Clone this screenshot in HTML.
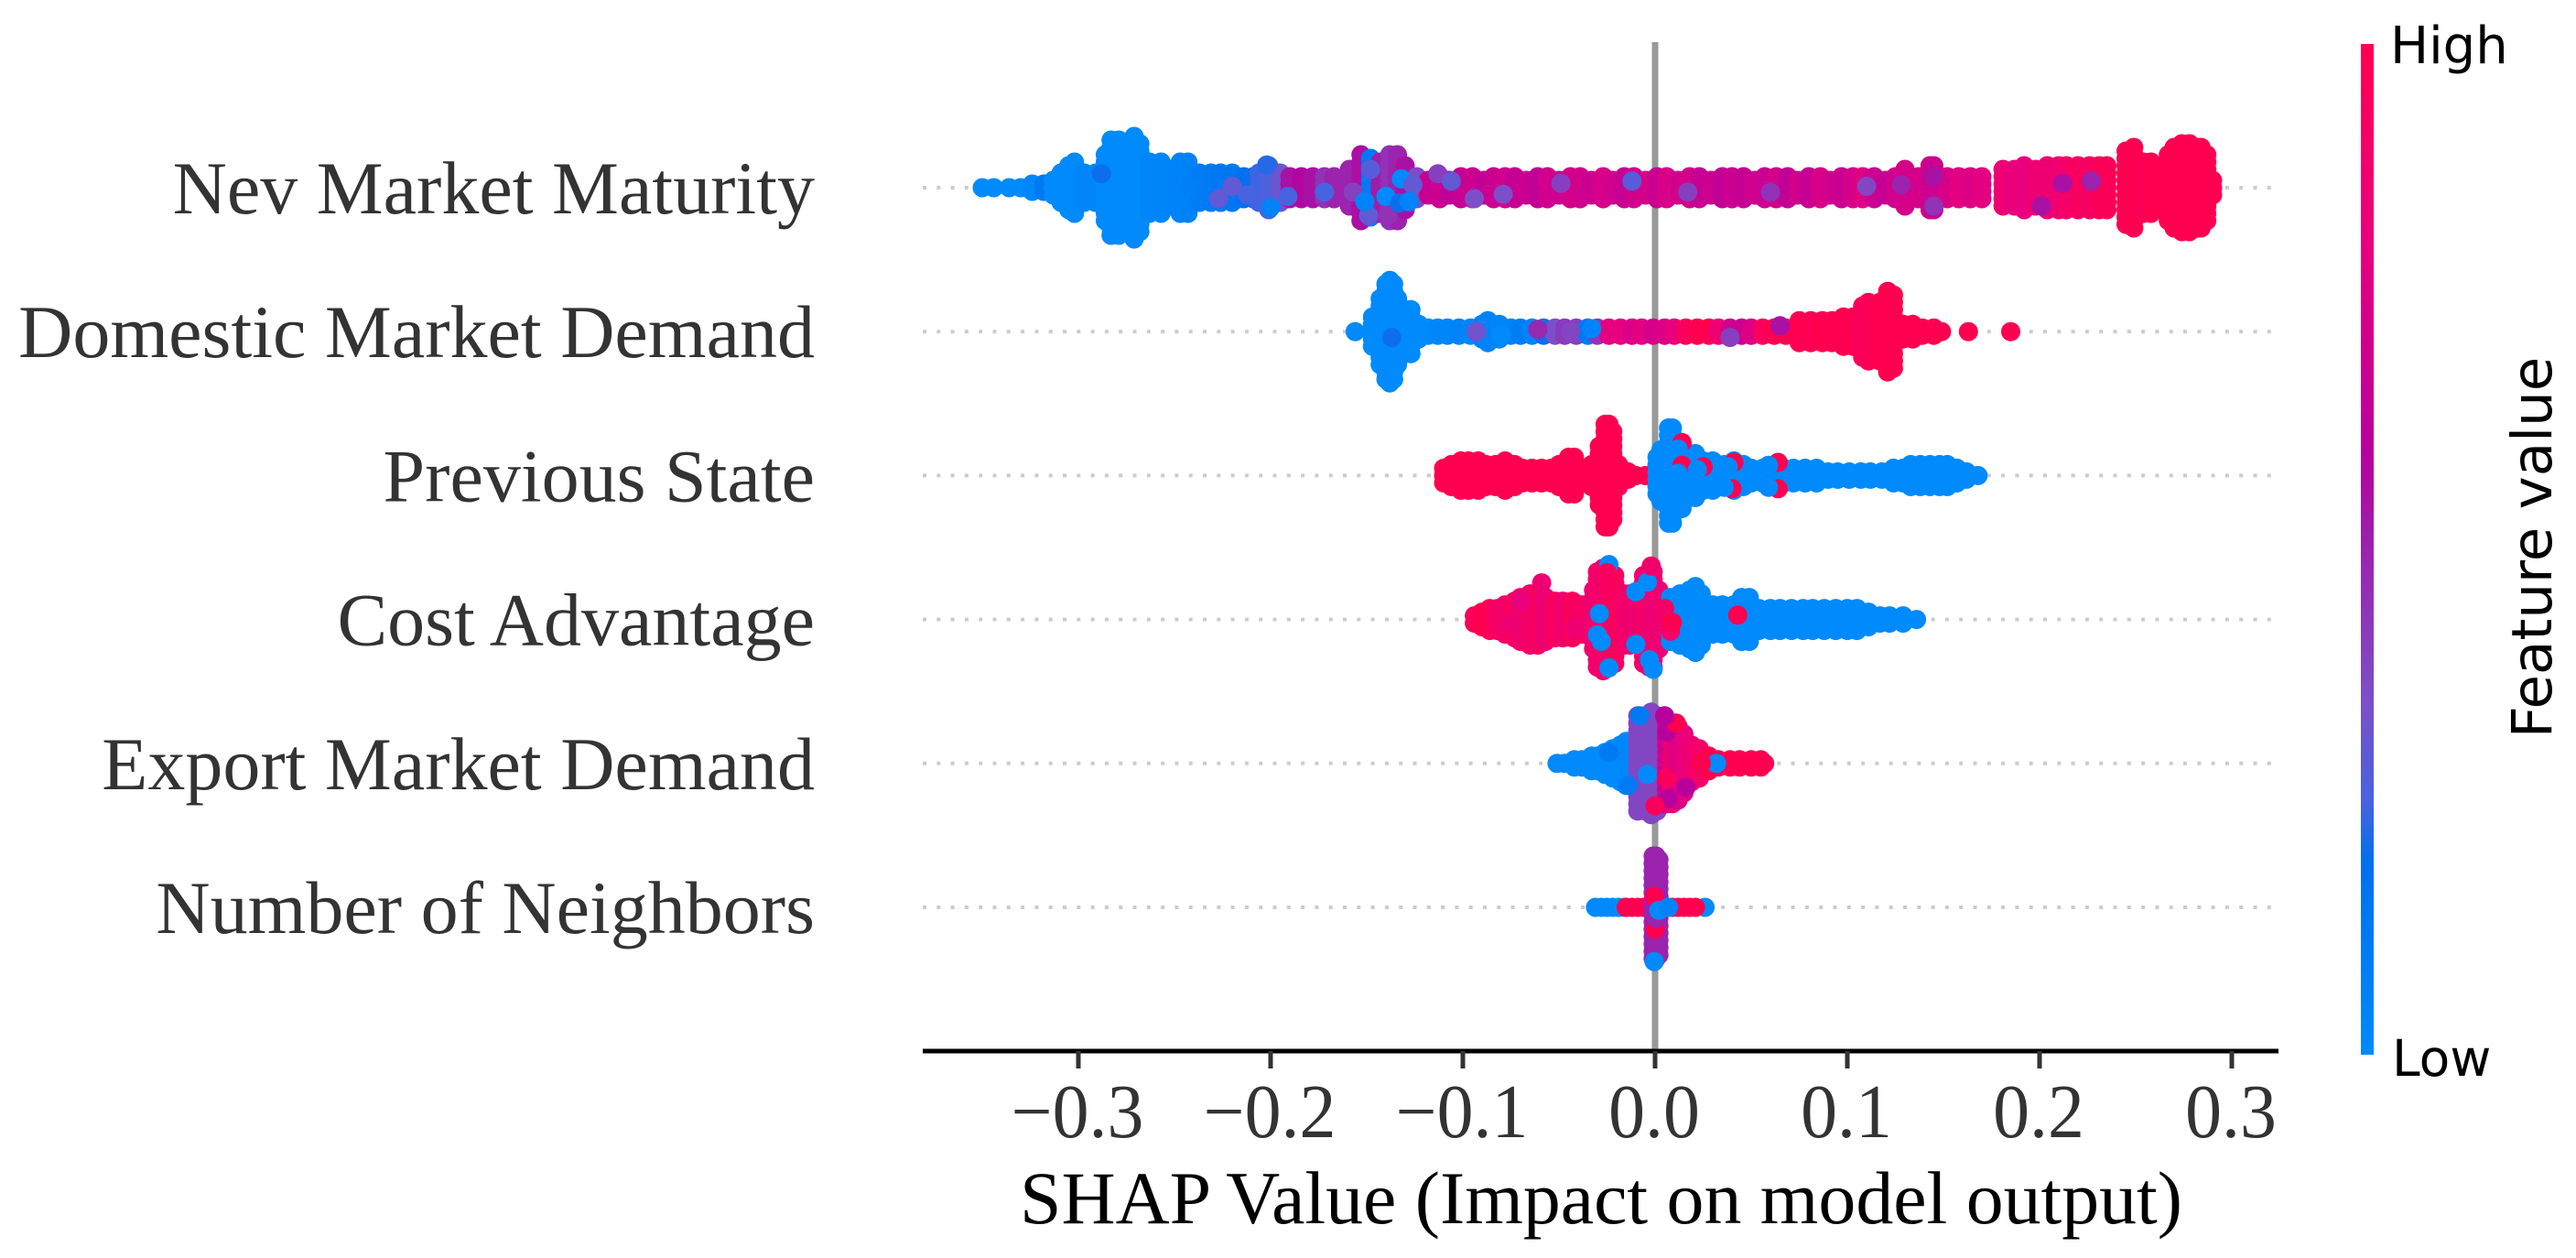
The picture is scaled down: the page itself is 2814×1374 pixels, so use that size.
<!DOCTYPE html>
<html lang="en">
<head>
<meta charset="utf-8">
<title>SHAP beeswarm summary plot</title>
<style>
html,body{margin:0;padding:0;background:#fff;}
svg{display:block;}
.serif{font-family:"Liberation Serif","Times New Roman",serif;}
.sans{font-family:"DejaVu Sans",sans-serif;}
</style>
</head>
<body>
<svg id="chart" xmlns="http://www.w3.org/2000/svg" width="2814" height="1374" viewBox="0 0 2814 1374">
  <defs>
    <linearGradient id="cbar" x1="0" y1="1" x2="0" y2="0"></linearGradient>
  </defs>
  <rect x="0" y="0" width="2814" height="1374" fill="#fff"/>
  <g id="guides"></g>
  <rect id="zeroLine" fill="#999999"/>
  <g id="swarms"></g>
  <g id="rowLabels"></g>
  <rect x="1008" y="1145.5" width="1481" height="5" fill="#000"/>
  <g id="ticks"></g>
  <text class="serif" x="1749" y="1336" font-size="81.8" text-anchor="middle" fill="#000">SHAP Value (Impact on model output)</text>
  <rect x="2579" y="48" width="14" height="1104" fill="url(#cbar)"/>
  <text class="sans" x="2611" y="69" font-size="56" fill="#000">High</text>
  <text class="sans" x="2613" y="1175" font-size="55" fill="#000">Low</text>
  <text class="sans" transform="translate(2787,598) rotate(-90)" font-size="61" text-anchor="middle" fill="#000">Feature value</text>
</svg>
<script>
// ---- categories and axis labels ----
const featureNames = ["Nev Market Maturity","Domestic Market Demand","Previous State","Cost Advantage","Export Market Demand","Number of Neighbors"];
const tickValues = [-0.3,-0.2,-0.1,0,0.1,0.2,0.3];
const tickLabels = ["\u22120.3","\u22120.2","\u22120.1","0.0","0.1","0.2","0.3"];

// ---- Nev Market Maturity ----
const nevShap = [-.350,-.344,-.336,-.330,-.324,-.318,-.313,-.309,-.305,-.302,-.297,-.291,-.286,-.283,-.279,-.275,-.271,-.268,-.263,-.257,-.251,-.247,-.243,-.237,-.231,-.226,-.220,-.214,-.209,-.206,-.201,-.195,-.190,-.184,-.178,-.172,-.167,-.159,-.153,-.148,-.143,-.138,-.134,-.130,
-.124,-.118,-.112,-.107,-.101,-.095,-.089,-.084,-.078,-.073,-.067,-.061,-.056,-.050,-.044,-.039,-.033,-.027,-.022,-.016,-.011,-.005,.001,.006,.012,.018,.023,.029,.035,.040,.046,.052,.057,.063,.069,.074,.080,.086,.091,.097,.103,.108,.114,.120,.125,
.130,.137,.143,.145,.152,.158,.164,.170,.181,.187,.192,.198,.204,.210,.214,.220,.226,.231,.235,.245,.249,.254,.258,.267,.270,.274,.278,.282,.284,.287,.290];
const nevCount = [1,1,1,1,2,2,3,5,7,8,5,5,10,14,14,9,15,13,8,8,6,8,8,5,5,5,5,4,4,5,7,5,4,4,4,4,4,6,10,9,8,10,10,7,
4,3,4,3,4,4,3,4,4,4,3,4,4,3,4,4,3,4,3,4,4,3,4,4,3,4,4,3,4,4,4,3,4,4,4,3,4,4,3,4,4,4,4,3,4,
6,4,7,7,4,4,4,4,6,6,7,6,7,7,7,7,7,7,7,11,12,8,8,10,12,13,13,12,12,10,3];
const nevFeature = [0,0,0,0,.02,.12,0,0,0,0,.03,.03,0,0,0,0,0,0,.03,.04,.05,.05,.06,.1,.11,.13,.14,.18,.2,.24,.26,.32,.55,.58,.55,.45,.5,.5,.56,.12,.52,.45,.5,.55,
.36,.66,.68,.63,.66,.68,.64,.68,.7,.66,.68,.64,.7,.68,.72,.7,.68,.74,.7,.66,.7,.72,.68,.74,.7,.72,.66,.68,.64,.68,.66,.7,.68,.72,.64,.7,.66,.74,.7,.68,.72,.76,.68,.66,.7,
.72,.72,.7,.68,.74,.78,.76,.78,.85,.82,.8,.85,.86,.85,.9,.93,.92,.95,.97,.99,1,.97,1,1,1,1,1,1,1,1,1];
const nevAccentShap = [-.288,-.242,-.220,-.227,-.212,-.202,-.200,-.191,-.172,-.157,-.148,-.149,-.140,-.132,-.139,-.133,-.151,-.126,-.113,-.106,-.094,-.079,-.128,-.012,-.049,.110,.128,.145,.145,.227,.060,.212,.017,.201];
const nevAccentLayer = [-1.9,-.2,-.2,1.5,1,-3.1,2.7,1.2,.6,.6,-2.5,3.8,1.2,-1.2,3.8,2.1,1.9,-.4,-1.9,-.9,1.5,.9,1.9,-.9,-.6,-.2,-.4,2.5,-1.5,-.9,.6,-.6,.6,2.5];
const nevAccentFeature = [.2,.08,.3,.3,.25,.22,.05,.25,.25,.4,.28,.3,0,0,.45,.2,.05,.3,.4,.3,.35,.35,.05,.28,.4,.38,.5,.45,.55,.5,.45,.55,.4,.55];

// ---- Domestic Market Demand ----
const domShap = [-.156,-.147,-.143,-.140,-.138,-.136,-.134,-.130,-.127,-.123,-.118,-.113,-.108,-.102,-.096,-.090,-.087,-.081,-.075,-.070,-.064,-.058,-.052,-.047,-.041,-.035,-.030,-.024,-.018,-.012,-.007,-.001,.005,.010,.016,.022,.028,.033,.039,.045,.050,.056,.062,.068,.075,.081,.087,.092,.098,.103,.108,.111,.117,.121,.124,.129,.134,.139,.145,.149,.163,.185];
const domCount = [1,5,10,14,15,14,10,7,7,3,2,2,2,2,2,3,4,3,2,2,2,2,2,2,2,2,2,2,2,2,2,2,2,2,2,2,2,2,2,2,2,2,2,2,4,4,4,4,5,5,8,9,9,12,11,3,3,2,2,1,1,1];
const domFeature = [0,0,0,0,0,0,0,0,0,0,0,.02,.03,.05,.04,.08,.05,.03,.06,.1,.06,.2,.35,.42,.4,.12,.45,.78,.8,.75,.78,.72,.75,.8,.95,1,1,.85,.7,.68,.75,.95,1,1,1,.98,1,1,1,1,.95,.97,1,1,1,1,1,1,1,1,1,1];
const domAccentShap = [-.093,-.080,-.061,-.044,-.033,.065,-.137,.039];
const domAccentLayer = [0,.4,-.3,0,-.4,-.8,.8,.8];
const domAccentFeature = [.33,0,.48,.38,.05,.55,.2,.4];

// ---- Previous State ----
const prevShap = [-.110,-.106,-.101,-.097,-.092,-.088,-.083,-.078,-.073,-.069,-.064,-.059,-.054,-.050,-.045,-.042,-.037,-.033,-.029,-.026,-.024,-.022,-.019,-.014,-.010,-.005,
.001,.003,.007,.009,.012,.014,.018,.021,.025,.030,.036,.041,.046,.050,.056,.061,.067,.072,.078,.084,.090,.095,.101,.107,.112,.118,.124,.129,.133,.138,.143,.148,.152,.157,.162,.168];
const prevCount = [3,4,5,5,5,4,4,5,4,3,3,3,3,4,6,6,3,4,9,15,15,13,4,2,1,1,
6,8,14,14,10,10,7,7,5,5,4,5,4,3,3,3,3,3,3,3,2,2,2,2,2,2,3,3,4,4,4,4,4,3,2,1];
const prevFeature = [1,1,1,1,1,1,1,1,1,1,1,1,1,1,1,1,1,1,1,1,1,1,1,1,1,1,
0,0,0,0,0,0,
0,0,0,0,0,0,
0,0,0,0,0,0,
0,0,0,0,0,0,
0,0,0,0,0,0,
0,0,0,0,0,0];
const prevAccentShap = [.014,.012,.014,.012,.025,.022,.040,.036,.064,.059,.064,.059,.041,.038];
const prevAccentLayer = [-4.5,-3.6,-1.4,-.3,-1.2,-.8,1.8,1.6,1.8,1.6,-1.8,-1.4,-1.8,-1.2];
const prevAccentFeature = [1,0,1,0,1,0,1,0,1,0,1,0,1,0];

// ---- Cost Advantage ----
const costShap = [-.094,-.090,-.086,-.082,-.078,-.073,-.070,-.065,-.061,-.057,-.052,-.048,-.043,-.038,-.032,-.030,-.027,-.024,-.021,-.016,-.013,-.009,-.006,-.003,-.001,.002,
.008,.010,.013,.018,.021,.024,.030,.035,.041,.045,.049,.054,.060,.065,.071,.077,.082,.088,.094,.100,.105,.111,.117,.122,.129,.136];
const costCount = [2,3,4,4,5,6,7,8,8,7,6,6,6,5,9,14,15,14,13,8,8,6,13,14,14,9,
7,7,8,9,10,8,5,5,5,7,7,4,4,4,4,4,4,4,4,4,4,3,2,2,2,1];
const costFeature = [.95,1,.98,.92,.9,.95,.88,.9,.92,.85,.95,.88,.95,.92,.85,.9,.88,.92,.95,.9,.88,.85,.9,.88,.86,.85,
0,0,0,0,0,0,0,0,0,0,0,0,0,0,0,0,0,0,0,0,0,0,0,0,0,0];
const costAccentShap = [-.029,-.028,-.030,-.024,-.024,-.025,-.003,-.004,-.010,-.010,-.002,-.001,-.070,-.059,-.075,-.042,.043,.006,.008,.005,.009];
const costAccentLayer = [-.8,3,2.1,6.6,-7.5,-6.4,5.5,-5.1,-3.8,3.4,-7.3,6.8,-2.5,-5,.6,1.2,-.6,0,1.6,-1.5,.4];
const costAccentFeature = [0,0,0,0,0,.95,0,0,0,0,.88,0,.82,.85,.85,.85,1,.9,.9,.9,1];

// ---- Export Market Demand ----
const expShap = [-.051,-.047,-.042,-.038,-.033,-.030,-.026,-.022,-.018,-.015,-.009,-.005,-.002,.001,.006,.009,.012,.015,.019,.023,.028,.033,.039,.044,.050,.055,.057];
const expCount = [1,1,2,2,3,3,4,5,6,7,14,14,15,14,12,12,11,9,6,5,3,2,2,2,2,2,1];
const expFeature = [0,0,0,0,0,0,0,0,0,.02,.38,.38,.38,.38,.7,.85,.75,.8,.85,.9,1,1,1,1,1,1,1];
const expAccentShap = [-.008,-.004,.006,.011,.005,.007,.016,0,.032,.024,-.024,-.014,.006];
const expAccentLayer = [-6.5,1.5,-4.3,-5.5,-6.5,4.8,3.3,5.8,0,0,-1.5,3,2];
const expAccentFeature = [.12,0,.6,1,.6,.6,.6,.95,0,1,.12,.12,.95];

// ---- Number of Neighbors ----
const nbrShap = [-.031,-.028,-.025,-.022,-.019,-.016,-.015,-.012,-.009,-.006,-.003,.026,.006,.009,.012,.015,.018,.021,-.001,.0005,.002];
const nbrCount = [1,1,1,1,1,1,1,1,1,1,1,1,1,1,1,1,1,1,15,15,14];
const nbrFeature = [0,0,0,0,0,0,1,1,1,1,1,0,1,1,1,1,1,1,.5,.5,.5];
const nbrAccentShap = [-.0005,0,.0005,.002,.007,-.0005];
const nbrAccentLayer = [-1.5,3,1.5,.4,0,7.4];
const nbrAccentFeature = [1,1,.5,0,.05,0];

// ---- colormap (feature value 0..1 -> colour) ----
const cmapStops = [0,.19,.25,.35,.5,.6,.8,1];
const cmapReds = [0,0,71,124,155,183,232,255];
const cmapGreens = [138,112,99,79,35,0,0,0];
const cmapBlues = [251,238,224,200,174,156,126,81];

const SVGNS = "http://www.w3.org/2000/svg";
const xScale = v => 1808 + v * 2100;
const yScale = i => 205 + i * 157.2;
const layerScale = l => l * 8;
const DOT_R = 10.5;

function featureColor(t){
  t = Math.max(0, Math.min(1, t));
  let k = 0;
  while (k < cmapStops.length - 2 && t > cmapStops[k + 1]) k++;
  const f = (t - cmapStops[k]) / (cmapStops[k + 1] - cmapStops[k]);
  const mix = a => Math.round(a[k] + (a[k + 1] - a[k]) * f);
  return "rgb(" + mix(cmapReds) + "," + mix(cmapGreens) + "," + mix(cmapBlues) + ")";
}

const gradient = document.getElementById("cbar");
cmapStops.forEach(function(s){
  const st = document.createElementNS(SVGNS, "stop");
  st.setAttribute("offset", s);
  st.setAttribute("stop-color", featureColor(s));
  gradient.appendChild(st);
});

const zero = document.getElementById("zeroLine");
zero.setAttribute("x", xScale(0) - 3.5);
zero.setAttribute("y", 46);
zero.setAttribute("width", 7);
zero.setAttribute("height", 1100);

function makeDot(parent, shap, offsetPx, rowIdx, feature){
  const c = document.createElementNS(SVGNS, "circle");
  
  
  c.setAttribute("cx", xScale(shap).toFixed(1));
  c.setAttribute("cy", (yScale(rowIdx) + offsetPx).toFixed(1));
  c.setAttribute("r", DOT_R);
  c.setAttribute("fill", featureColor(feature));
  parent.appendChild(c);
}

function drawRow(rowIdx, shap, count, feature, aShap, aLayer, aFeature){
  const y = yScale(rowIdx);

  const guide = document.createElementNS(SVGNS, "line");
  
  
  guide.setAttribute("x1", 1008);
  guide.setAttribute("x2", 2489);
  guide.setAttribute("y1", y);
  guide.setAttribute("y2", y);
  guide.setAttribute("stroke", "#cccccc");
  guide.setAttribute("stroke-width", 4);
  guide.setAttribute("stroke-dasharray", "4 11.3");
  document.getElementById("guides").appendChild(guide);

  const label = document.createElementNS(SVGNS, "text");
  
  
  label.setAttribute("class", "serif");
  label.setAttribute("x", 890);
  label.setAttribute("y", y + 28);
  label.setAttribute("font-size", 82);
  label.setAttribute("text-anchor", "end");
  label.setAttribute("fill", "#333333");
  label.textContent = featureNames[rowIdx];
  document.getElementById("rowLabels").appendChild(label);

  const g = document.createElementNS(SVGNS, "g");
  
  
  document.getElementById("swarms").appendChild(g);

  shap.forEach(function(v, i){
    const n = count[i];
    for (let k = 0; k < n; k++){
      makeDot(g, v, layerScale(k - (n - 1) / 2), rowIdx, feature[i]);
    }
  });
  aShap.forEach(function(v, i){
    makeDot(g, v, layerScale(aLayer[i]), rowIdx, aFeature[i]);
  });
}

drawRow(0, nevShap, nevCount, nevFeature, nevAccentShap, nevAccentLayer, nevAccentFeature);
drawRow(1, domShap, domCount, domFeature, domAccentShap, domAccentLayer, domAccentFeature);
drawRow(2, prevShap, prevCount, prevFeature, prevAccentShap, prevAccentLayer, prevAccentFeature);
drawRow(3, costShap, costCount, costFeature, costAccentShap, costAccentLayer, costAccentFeature);
drawRow(4, expShap, expCount, expFeature, expAccentShap, expAccentLayer, expAccentFeature);
drawRow(5, nbrShap, nbrCount, nbrFeature, nbrAccentShap, nbrAccentLayer, nbrAccentFeature);

const tickGroup = document.getElementById("ticks");
tickValues.forEach(function(v, i){
  const t = document.createElementNS(SVGNS, "rect");
  
  
  t.setAttribute("x", xScale(v) - 2.5);
  t.setAttribute("y", 1148);
  t.setAttribute("width", 5);
  t.setAttribute("height", 19);
  t.setAttribute("fill", "#333333");
  tickGroup.appendChild(t);

  const lab = document.createElementNS(SVGNS, "text");
  
  
  lab.setAttribute("class", "serif");
  lab.setAttribute("transform", "translate(" + (xScale(v) - 1) + ",1242) scale(.95,1)");
  lab.setAttribute("font-size", 84);
  lab.setAttribute("text-anchor", "middle");
  lab.setAttribute("fill", "#333333");
  lab.textContent = tickLabels[i];
  tickGroup.appendChild(lab);
});
</script>
</body>
</html>
